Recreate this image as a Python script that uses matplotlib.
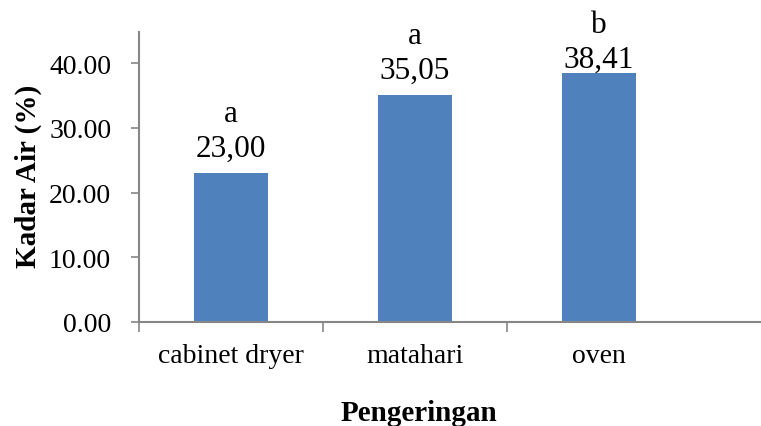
import matplotlib
matplotlib.use("Agg")
import matplotlib.pyplot as plt

categories = ["cabinet dryer", "matahari", "oven"]
kadar_air = [23.00, 35.05, 38.41]
notasi = ["a", "a", "b"]
yticks = [0, 10, 20, 30, 40]

plt.rcParams["font.family"] = ["Liberation Serif", "DejaVu Serif"]

W, H = 761, 427
fig = plt.figure(figsize=(W / 100, H / 100), dpi=100)
left, right, bottom, top = 139, 761, 323, 33
ax = fig.add_axes([left / W, 1 - bottom / H, (right - left) / W, (bottom - top) / H])

bar_color = "#4F81BD"
axis_color = "#868686"
x = list(range(len(categories)))
ax.bar(x, kadar_air, width=0.40, color=bar_color, zorder=2)

ax.set_xlim(-0.5, (right - 231) / 184)
ax.set_ylim(0, 44.8)

# Data labels: value just above the bar, significance letter above it.
# Labels are kept inside the chart area, so tall bars push them down.
for xi, v, n in zip(x, kadar_air, notasi):
    px, py = ax.transData.transform((xi, v))
    bar_top = H - py                      # pixels from the top edge
    num_base = max(bar_top - 17, 68)
    let_base = num_base - 35
    label = f"{v:.2f}".replace(".", ",")
    fig.text(px / W, 1 - num_base / H, label, fontsize=22.5,
             ha="center", va="baseline")
    fig.text(px / W, 1 - let_base / H, n, fontsize=22.5,
             ha="center", va="baseline")

ax.set_yticks(yticks)
ax.set_yticklabels([f"{t:.2f}" for t in yticks])

ax.set_xticks(x)
ax.set_xticklabels(categories)
ax.set_xticks([-0.5, 0.5, 1.5], minor=True)

for s in ["top", "right"]:
    ax.spines[s].set_visible(False)
for s in ["left", "bottom"]:
    ax.spines[s].set_color(axis_color)
    ax.spines[s].set_linewidth(1.5)

ax.tick_params(axis="y", direction="out", length=6, width=1.2, color=axis_color,
               labelsize=20, pad=14)
ax.tick_params(axis="x", which="major", length=0, labelsize=20, pad=15)
ax.tick_params(axis="x", which="minor", direction="out", length=7, width=1.2,
               color=axis_color)

fig.text(28 / W, 1 - 176 / H, "Kadar Air (%)", fontsize=21, fontweight="bold",
         rotation=90, ha="center", va="center")
fig.text(419 / W, 1 - 421 / H, "Pengeringan", fontsize=21, fontweight="bold",
         ha="center", va="baseline")

fig.savefig("out.png", dpi=100)
